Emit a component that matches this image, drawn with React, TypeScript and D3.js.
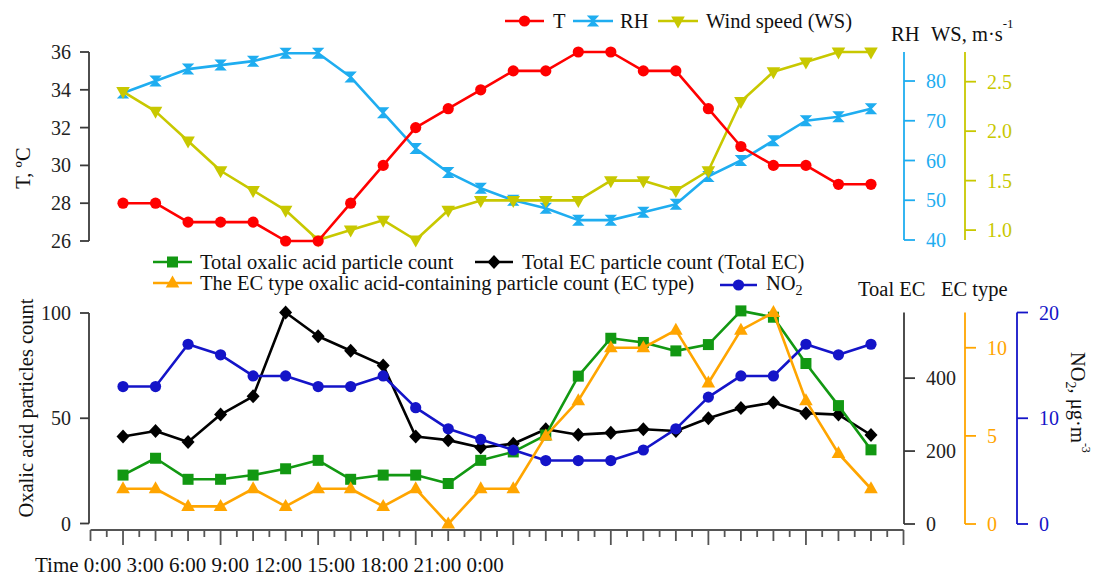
import React from "react";
import * as d3 from "d3";

// ---- data (index = hour of day) ----
const hours = [0, 1, 2, 3, 4, 5, 6, 7, 8, 9, 10, 11, 12, 13, 14, 15, 16, 17, 18, 19, 20, 21, 22, 23];
const temperature = [28, 28, 27, 27, 27, 26, 26, 28, 30, 32, 33, 34, 35, 35, 36, 36, 35, 35, 33, 31, 30, 30, 29, 29];
const relHumidity = [77, 80, 83, 84, 85, 87, 87, 81, 72, 63, 57, 53, 50, 48, 45, 45, 47, 49, 56, 60, 65, 70, 71, 73];
const windSpeed = [2.4, 2.2, 1.9, 1.6, 1.4, 1.2, 0.9, 1.0, 1.1, 0.9, 1.2, 1.3, 1.3, 1.3, 1.3, 1.5, 1.5, 1.4, 1.6, 2.3, 2.6, 2.7, 2.8, 2.8];
const oxalicTotal = [23, 31, 21, 21, 23, 26, 30, 21, 23, 23, 19, 30, 34, 42, 70, 88, 86, 82, 85, 101, 98, 76, 56, 35];
const ecTypeCount = [2, 2, 1, 1, 2, 1, 2, 2, 1, 2, 0, 2, 2, 5, 7, 10, 10, 11, 8, 11, 12, 7, 4, 2];
const totalEC = [240, 255, 225, 300, 350, 580, 515, 475, 435, 240, 230, 210, 220, 260, 245, 250, 260, 255, 290, 318, 333, 304, 300, 244];
const no2 = [13, 13, 17, 16, 14, 14, 13, 13, 14, 11, 9, 8, 7, 6, 6, 6, 7, 9, 12, 14, 14, 17, 16, 17];

// ---- tick values / labels ----
const tTicks = [26, 28, 30, 32, 34, 36];
const rhTicks = [40, 50, 60, 70, 80];
const wsTicks = [1.0, 1.5, 2.0, 2.5];
const oxTicks = [0, 50, 100];
const ecTotalTicks = [0, 200, 400];
const ecTypeTicks = [0, 5, 10];
const no2Ticks = [0, 10, 20];
const timeLabels = ["0:00", "3:00", "6:00", "9:00", "12:00", "15:00", "18:00", "21:00", "0:00"];

const C = {
  T: "#ff0000",
  RH: "#1fadf0",
  WS: "#c8c800",
  green: "#129812",
  orange: "#ffa500",
  blue: "#1414c8",
  black: "#000000",
  axis: "#3a3a3a",
};

const FONT = "'Liberation Serif', 'Times New Roman', Times, serif";

const x = d3.scaleLinear().domain([-1, 24]).range([90.5, 903.5]);

// top panel scales
const yT = d3.scaleLinear().domain([26, 36]).range([241, 52]);
const yRH = d3.scaleLinear().domain([40, 87.3]).range([240, 52]);
const yWS = d3.scaleLinear().domain([0.9, 2.8]).range([240, 52]);
// bottom panel scales
const yOx = d3.scaleLinear().domain([0, 100]).range([523.5, 313]);
const yEC = d3.scaleLinear().domain([0, 580]).range([524, 312.5]);
const yECt = d3.scaleLinear().domain([0, 12]).range([524, 312.5]);
const yNO2 = d3.scaleLinear().domain([0, 20]).range([524, 312.5]);

type Shape = "circle" | "hourglass" | "down" | "square" | "diamond" | "up";

function Marker({ shape, cx, cy, color }: { shape: Shape; cx: number; cy: number; color: string }) {
  const t = `translate(${cx},${cy})`;
  switch (shape) {
    case "circle":
      return <circle cx={cx} cy={cy} r={5.6} fill={color} />;
    case "square":
      return <rect x={cx - 5.5} y={cy - 5.5} width={11} height={11} fill={color} />;
    case "diamond":
      return <path transform={t} d="M0,-7 L6.5,0 L0,7 L-6.5,0 Z" fill={color} />;
    case "up":
      return <path transform={t} d="M0,-7.5 L6.8,4.5 L-6.8,4.5 Z" fill={color} />;
    case "down":
      return <path transform={t} d="M0,7.5 L6.8,-4.5 L-6.8,-4.5 Z" fill={color} />;
    case "hourglass":
      return <path transform={t} d="M-6.2,-5.5 L6.2,-5.5 L1,0 L6.2,5.5 L-6.2,5.5 L-1,0 Z" fill={color} />;
  }
  return null;
}

function Series({ values, y, color, shape }: { values: number[]; y: d3.ScaleLinear<number, number>; color: string; shape: Shape }) {
  const line = d3
    .line<number>()
    .x((_, i) => x(hours[i]))
    .y((v) => y(v));
  return (
    <g>
      <path d={line(values) || ""} fill="none" stroke={color} strokeWidth={2.6} strokeLinejoin="round" />
      {values.map((v, i) => (
        <Marker key={i} shape={shape} cx={x(hours[i])} cy={y(v)} color={color} />
      ))}
    </g>
  );
}

function LeftAxis({ scale, ticks, fmt }: { scale: d3.ScaleLinear<number, number>; ticks: number[]; fmt?: (v: number) => string }) {
  const [r0, r1] = scale.range();
  const ax = 89;
  return (
    <g>
      <line x1={ax} x2={ax} y1={r0} y2={r1} stroke={C.axis} strokeWidth={1.8} />
      {ticks.map((t) => (
        <g key={t}>
          <line x1={ax - 9} x2={ax} y1={scale(t)} y2={scale(t)} stroke={C.axis} strokeWidth={1.8} />
          <text x={71} y={scale(t)} dy="0.35em" textAnchor="end" fontSize={20} fontFamily={FONT} fill="#222">
            {fmt ? fmt(t) : t}
          </text>
        </g>
      ))}
    </g>
  );
}

function RightAxis({ scale, ticks, ax, color, textColor, fmt }: { scale: d3.ScaleLinear<number, number>; ticks: number[]; ax: number; color: string; textColor: string; fmt?: (v: number) => string }) {
  const [r0, r1] = scale.range();
  return (
    <g>
      <line x1={ax} x2={ax} y1={r0} y2={r1} stroke={color} strokeWidth={1.8} />
      {ticks.map((t) => (
        <g key={t}>
          <line x1={ax} x2={ax + 11} y1={scale(t)} y2={scale(t)} stroke={color} strokeWidth={1.8} />
          <text x={ax + 22} y={scale(t)} dy="0.35em" textAnchor="start" fontSize={20} fontFamily={FONT} fill={textColor}>
            {fmt ? fmt(t) : t}
          </text>
        </g>
      ))}
    </g>
  );
}

function LegendItem({ x1, x2, y, color, shape, label, tx, ty }: { x1: number; x2: number; y: number; color: string; shape: Shape; label: React.ReactNode; tx: number; ty: number }) {
  return (
    <g>
      <line x1={x1} x2={x2} y1={y} y2={y} stroke={color} strokeWidth={2.6} />
      <Marker shape={shape} cx={(x1 + x2) / 2} cy={y} color={color} />
      <text x={tx} y={ty} fontSize={20.5} fontFamily={FONT} fill="#111">
        {label}
      </text>
    </g>
  );
}

export default function App() {
  // x-axis ticks: long every 3 h, medium each hour, short each half hour
  const tickIdx = d3.range(-1, 24.01, 0.5);
  const xAxisY = 530;

  return (
    <svg
      width={1096}
      height={578}
      style={{ position: "absolute", left: 0, top: 0, background: "#fff" }}
      fontFamily={FONT}
    >
      <rect width={1096} height={578} fill="#fff" />

      {/* ---------- TOP PANEL ---------- */}
      <LeftAxis scale={yT} ticks={tTicks} />
      <RightAxis scale={yRH} ticks={rhTicks} ax={904} color={C.RH} textColor={C.RH} />
      <RightAxis scale={yWS} ticks={wsTicks} ax={965} color={C.WS} textColor={C.WS} fmt={(v) => v.toFixed(1)} />

      <text transform="translate(30,168) rotate(-90)" textAnchor="middle" fontSize={20.5} fill="#111">
        T, ºC
      </text>
      <text x={891} y={41} fontSize={20.5} fill="#111">RH</text>
      <text x={931} y={41} fontSize={20.5} fill="#111">
        WS, m·s<tspan dy={-13} fontSize={13}>-1</tspan>
      </text>

      <Series values={relHumidity} y={yRH} color={C.RH} shape="hourglass" />
      <Series values={windSpeed} y={yWS} color={C.WS} shape="down" />
      <Series values={temperature} y={yT} color={C.T} shape="circle" />

      <LegendItem x1={505} x2={544} y={21} color={C.T} shape="circle" label="T" tx={553} ty={28} />
      <LegendItem x1={573} x2={613} y={21} color={C.RH} shape="hourglass" label="RH" tx={620} ty={28} />
      <LegendItem x1={658} x2={698} y={21} color={C.WS} shape="down" label="Wind speed (WS)" tx={706} ty={28} />

      {/* ---------- BOTTOM PANEL ---------- */}
      <LeftAxis scale={yOx} ticks={oxTicks} />
      <RightAxis scale={yEC} ticks={ecTotalTicks} ax={904} color={C.axis} textColor="#222" />
      <RightAxis scale={yECt} ticks={ecTypeTicks} ax={965} color={C.orange} textColor={C.orange} />
      <RightAxis scale={yNO2} ticks={no2Ticks} ax={1017} color={C.blue} textColor={C.blue} />

      <text transform="translate(33,408) rotate(-90)" textAnchor="middle" fontSize={20.5} fill="#111">
        Oxalic acid particles count
      </text>
      <text x={858} y={296} fontSize={20.5} fill="#111">Toal EC</text>
      <text x={941} y={296} fontSize={20.5} fill="#111">EC type</text>
      <text transform="translate(1071,352) rotate(90)" fontSize={20.5} fill="#111">
        NO<tspan dy={5} fontSize={14}>2</tspan>
        <tspan dy={-5}>, μg·m</tspan>
        <tspan dy={-11} fontSize={12}>-3</tspan>
      </text>

      {/* x axis */}
      <line x1={x(-1)} x2={x(24)} y1={xAxisY} y2={xAxisY} stroke="#555" strokeWidth={1.8} />
      {tickIdx.map((t) => {
        const isHalf = Math.abs(t - Math.round(t)) > 0.01;
        const isLong = !isHalf && ((Math.round(t) % 3) + 3) % 3 === 0;
        const len = isHalf ? 7 : isLong ? 15 : 11;
        return <line key={t} x1={x(t)} x2={x(t)} y1={xAxisY} y2={xAxisY + len} stroke="#555" strokeWidth={1.8} />;
      })}
      <text x={35} y={572} fontSize={21} fill="#111">
        {["Time", ...timeLabels].join(" ")}
      </text>

      <Series values={totalEC} y={yEC} color={C.black} shape="diamond" />
      <Series values={oxalicTotal} y={yOx} color={C.green} shape="square" />
      <Series values={no2} y={yNO2} color={C.blue} shape="circle" />
      <Series values={ecTypeCount} y={yECt} color={C.orange} shape="up" />

      <LegendItem x1={153} x2={192} y={262} color={C.green} shape="square" label="Total oxalic acid particle count" tx={200} ty={269} />
      <LegendItem x1={475} x2={513} y={262} color={C.black} shape="diamond" label="Total EC particle count (Total EC)" tx={522} ty={269} />
      <LegendItem x1={153} x2={192} y={283} color={C.orange} shape="up" label="The EC type oxalic acid-containing particle count (EC type)" tx={200} ty={290} />
      <LegendItem
        x1={720}
        x2={757}
        y={285}
        color={C.blue}
        shape="circle"
        label={
          <>
            NO<tspan dy={5} fontSize={14}>2</tspan>
          </>
        }
        tx={766}
        ty={290}
      />
    </svg>
  );
}
